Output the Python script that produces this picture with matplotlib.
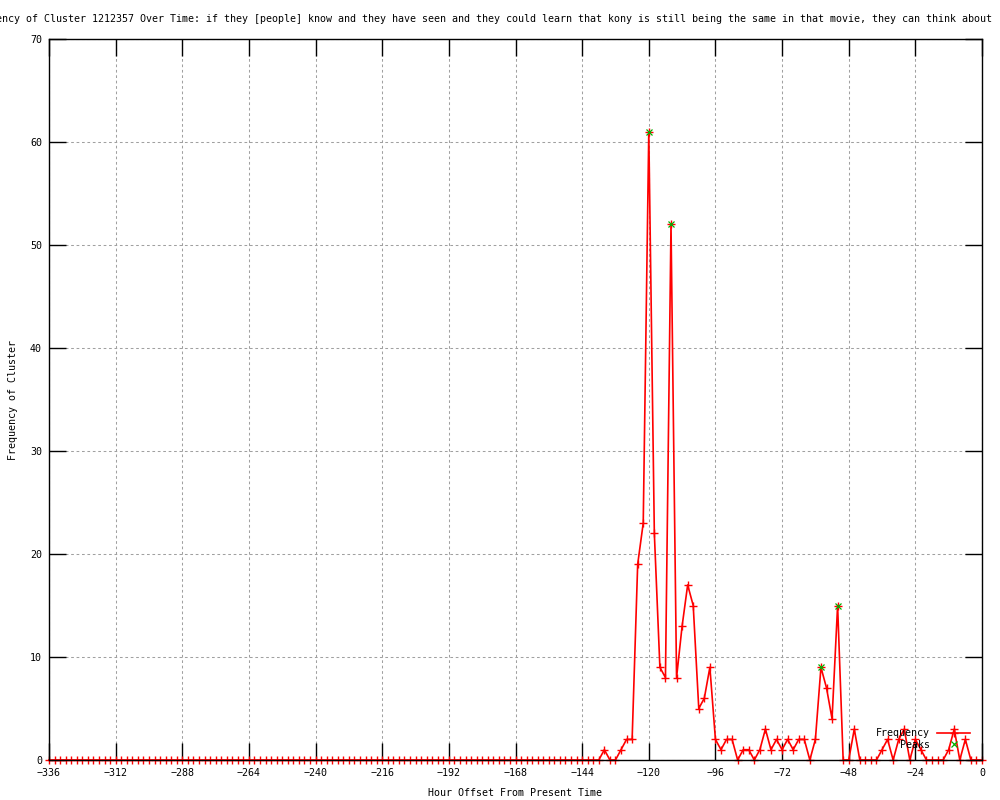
import matplotlib
matplotlib.use('Agg')
import matplotlib.pyplot as plt

# hourly offsets, one sample every 2 hours
hours = list(range(-336, 1, 2))

# non-zero counts (everything else is 0)
nonzero = {
    -136: 1, -130: 1, -128: 2, -126: 2, -124: 19, -122: 23, -120: 61,
    -118: 22, -116: 9, -114: 8, -112: 52, -110: 8, -108: 13, -106: 17,
    -104: 15, -102: 5, -100: 6, -98: 9, -96: 2, -94: 1, -92: 2, -90: 2,
    -86: 1, -84: 1, -80: 1, -78: 3, -76: 1, -74: 2, -72: 1, -70: 2,
    -68: 1, -66: 2, -64: 2, -60: 2, -58: 9, -56: 7, -54: 4, -52: 15,
    -46: 3, -36: 1, -34: 2, -30: 2, -28: 3, -24: 2, -22: 1, -12: 1,
    -10: 3, -6: 2,
}
freq = [nonzero.get(h, 0) for h in hours]

peak_hours = [-120, -112, -58, -52]
peak_vals = [61, 52, 9, 15]

xticks = list(range(-336, 1, 24))
yticks = list(range(0, 71, 10))

title = ('Frequency of Cluster 1212357 Over Time: if they [people] know and they '
         'have seen and they could learn that kony is still being the same in '
         'that movie, they can think about')

plt.rcParams['font.family'] = 'DejaVu Sans Mono'
fs = 7.2

fig = plt.figure(figsize=(10, 8), dpi=100)
ax = fig.add_axes([0.049, 0.05, 0.933, 0.90125])

ax.plot(hours, freq, color='red', lw=1.2, marker='+', ms=6, mew=1.0,
        clip_on=False, zorder=2, label='Frequency')
ax.plot(peak_hours, peak_vals, ls='none', color='#00b000', marker='x', ms=5,
        mew=0.9, clip_on=False, zorder=3, label='Peaks')

ax.set_xlim(-336, 0)
ax.set_ylim(0, 70)
ax.set_xticks(xticks)
ax.set_yticks(yticks)
ax.tick_params(direction='in', length=12, width=1, top=True, right=True,
               labelsize=fs, colors='black')
ax.tick_params(axis='y', pad=5)
ax.tick_params(axis='x', pad=6)
ax.grid(True, color='#a0a0a0', lw=0.75, ls=(0, (2.6, 2.6)))
for s in ax.spines.values():
    s.set_linewidth(1)
    s.set_zorder(2.5)

ax.set_xlabel('Hour Offset From Present Time', fontsize=fs)
ax.xaxis.label.set_va('center')
ax.xaxis.set_label_coords(0.5, -(793 - 760) / 721)
ax.set_ylabel('Frequency of Cluster', fontsize=fs)
ax.yaxis.label.set_va('center')
ax.yaxis.set_label_coords((13 - 49) / 933, 0.5)

fig.text(-0.034, 1 - 19 / 800, title, fontsize=fs, ha='left', va='center')

ax.legend(loc='center right', bbox_to_anchor=(0.970, 61 / 800),
          bbox_transform=fig.transFigure, frameon=False, markerfirst=False,
          fontsize=fs, handlelength=3.3, handletextpad=0.7, labelspacing=0.15,
          borderpad=0, borderaxespad=0)

fig.savefig('out.png', dpi=100)
